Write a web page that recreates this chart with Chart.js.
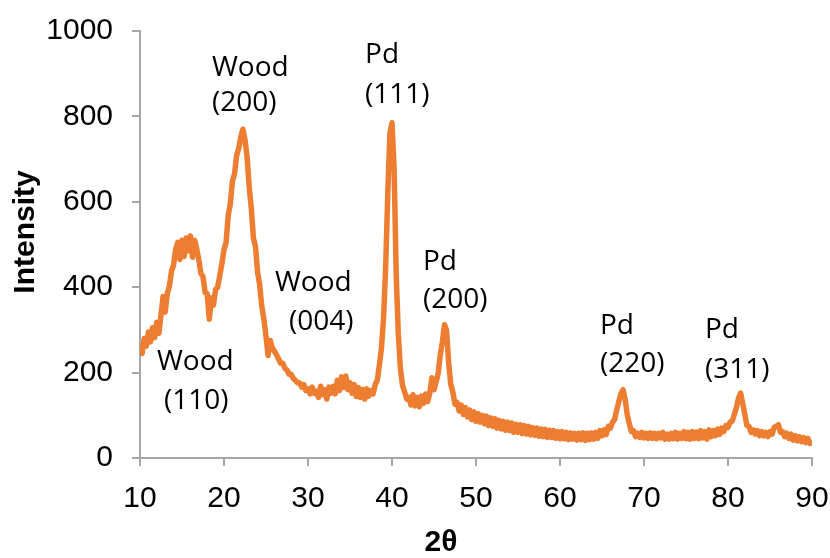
<!DOCTYPE html>
<html>
<head>
<meta charset="utf-8">
<script src="https://cdn.jsdelivr.net/npm/chart.js@4.4.1/dist/chart.umd.min.js"></script>
<style>
  html, body { margin: 0; padding: 0; background: #fff; }
  #wrap { width: 830px; height: 558px; }
</style>
</head>
<body>
<div id="wrap"><canvas id="xrdChart" width="830" height="558"></canvas></div>
<script>
// ---------------------------
// Data
// ---------------------------
// 2-theta sampling grid: 10..90 deg, every 0.25 deg
const angleStart = 10;
const angleStep = 0.25;

// intensity, four samples per degree (n, n.25, n.5, n.75)
const intensity = [
    260, 245, 280, 262,   // 10
    295, 272, 305, 282,   // 11
    318, 292, 335, 378,   // 12
    342, 385, 402, 438,   // 13
    452, 490, 505, 465,   // 14
    510, 472, 515, 485,   // 15
    520, 470, 510, 490,   // 16
    465, 432, 425, 388,   // 17
    385, 325, 375, 358,   // 18
    395, 400, 428, 455,   // 19
    488, 505, 568, 595,   // 20
    648, 665, 708, 725,   // 21
    752, 770, 745, 705,   // 22
    635, 585, 515, 495,   // 23
    435, 405, 355, 325,   // 24
    285, 240, 275, 258,   // 25
    250, 242, 232, 222,   // 26
    222, 210, 206, 196,   // 27
    196, 186, 182, 176,   // 28
    176, 166, 172, 158,   // 29
    162, 150, 166, 152,   // 30
    156, 142, 168, 148,   // 31
    160, 138, 166, 152,   // 32
    168, 150, 182, 158,   // 33
    190, 165, 192, 160,   // 34
    176, 152, 172, 144,   // 35
    165, 142, 160, 138,   // 36
    162, 145, 158, 150,   // 37
    172, 182, 218, 258,   // 38
    330, 450, 620, 760,   // 39
    785, 680, 430, 290,   // 40
    210, 170, 155, 138,   // 41
    142, 124, 148, 122,   // 42
    142, 120, 145, 128,   // 43
    150, 132, 152, 188,   // 44
    160, 178, 198, 242,   // 45
    272, 312, 298, 222,   // 46
    172, 154, 126, 130,   // 47
    110, 124, 102, 118,   // 48
    96, 112, 90, 108,     // 49
    86, 104, 84, 100,     // 50
    80, 98, 76, 94,       // 51
    74, 92, 70, 88,       // 52
    68, 86, 65, 84,       // 53
    64, 82, 60, 79,       // 54
    60, 78, 57, 76,       // 55
    56, 74, 54, 71,       // 56
    53, 70, 51, 68,       // 57
    50, 67, 48, 65,       // 58
    48, 64, 46, 62,       // 59
    45, 62, 45, 60,       // 60
    43, 59, 44, 58,       // 61
    42, 58, 43, 59,       // 62
    41, 58, 43, 59,       // 63
    44, 60, 46, 64,       // 64
    52, 66, 55, 74,       // 65
    70, 84, 90, 112,      // 66
    132, 150, 160, 138,   // 67
    102, 80, 62, 64,      // 68
    50, 58, 48, 60,       // 69
    47, 58, 46, 59,       // 70
    46, 58, 45, 58,       // 71
    47, 60, 44, 56,       // 72
    44, 58, 45, 60,       // 73
    44, 58, 46, 62,       // 74
    45, 60, 44, 62,       // 75
    46, 61, 45, 64,       // 76
    47, 62, 44, 66,       // 77
    50, 64, 52, 68,       // 78
    55, 70, 62, 76,       // 79
    72, 84, 86, 102,      // 80
    118, 140, 152, 128,   // 81
    102, 76, 74, 60,      // 82
    66, 56, 64, 52,       // 83
    62, 52, 60, 50,       // 84
    62, 56, 72, 74,       // 85
    78, 60, 62, 50,       // 86
    58, 46, 56, 42,       // 87
    52, 40, 50, 38,       // 88
    48, 36, 46, 34,       // 89
    40                    // 90
];

const xTickValues = [10, 20, 30, 40, 50, 60, 70, 80, 90];
const yTickValues = [0, 200, 400, 600, 800, 1000];

// peak labels: [line 1, line 2]
const peakLabels = [
    ['Wood', '(110)'],
    ['Wood', '(200)'],
    ['Wood', '(004)'],
    ['Pd', '(111)'],
    ['Pd', '(200)'],
    ['Pd', '(220)'],
    ['Pd', '(311)']
];

// ---------------------------
// Label placement (data units) + styles
// ---------------------------
const labelSpots = [
    [[12.02, 224], [12.86, 133]],
    [[18.57, 913], [18.57, 831]],
    [[26.07, 409], [27.74, 318]],
    [[36.79, 943], [36.79, 850]],
    [[43.69, 459], [43.69, 370]],
    [[64.76, 309], [64.76, 220]],
    [[77.26, 299], [77.26, 206]]
];

const ORANGE = '#ED7D31';
const AXIS_GREY = '#A6A6A6';
const TICK_FONT = { family: '"Liberation Sans", Arial, sans-serif', size: 30 };

const points = intensity.map((v, i) => ({ x: angleStart + i * angleStep, y: v }));

// draws peak labels and axis titles
const textPlugin = {
    id: 'xrdText',
    afterDraw(chart) {
        const { ctx, scales } = chart;
        ctx.save();
        ctx.fillStyle = '#000';
        ctx.font = '28px "Open Sans", sans-serif';
        ctx.textAlign = 'left';
        ctx.textBaseline = 'middle';
        peakLabels.forEach((lines, i) => {
            lines.forEach((txt, j) => {
                const [ax, ay] = labelSpots[i][j];
                ctx.fillText(txt, scales.x.getPixelForValue(ax), scales.y.getPixelForValue(ay));
            });
        });

        // axis titles
        ctx.font = 'bold 30px "Liberation Sans", Arial, sans-serif';
        ctx.textAlign = 'center';
        ctx.fillText('2θ', 441, 543);
        ctx.translate(26, 232);
        ctx.rotate(-Math.PI / 2);
        ctx.fillText('Intensity', 0, 0);
        ctx.restore();
    }
};

new Chart(document.getElementById('xrdChart').getContext('2d'), {
    type: 'line',
    data: {
        datasets: [{
            data: points,
            borderColor: ORANGE,
            backgroundColor: ORANGE,
            borderWidth: 5.5,
            pointRadius: 0,
            tension: 0,
            borderJoinStyle: 'round'
        }]
    },
    options: {
        responsive: false,
        animation: false,
        events: [],
        layout: { padding: { top: 31, right: 18, left: 0, bottom: 0 } },
        plugins: { legend: { display: false }, tooltip: { enabled: false } },
        scales: {
            x: {
                type: 'linear',
                min: 10,
                max: 90,
                afterBuildTicks: (axis) => { axis.ticks = xTickValues.map(v => ({ value: v })); },
                afterFit: (axis) => {
                    axis.height = 100;
                    axis.paddingLeft = 0;
                    axis.paddingRight = 0;
                },
                ticks: { font: TICK_FONT, color: '#000', padding: 15, maxRotation: 0, callback: v => String(v) },
                grid: { drawOnChartArea: false, tickLength: 8, color: AXIS_GREY, lineWidth: 2 },
                border: { color: AXIS_GREY, width: 2 }
            },
            y: {
                min: 0,
                max: 1000,
                afterBuildTicks: (axis) => { axis.ticks = yTickValues.map(v => ({ value: v })); },
                afterFit: (axis) => {
                    axis.width = 140;
                    axis.paddingTop = 0;
                    axis.paddingBottom = 0;
                },
                ticks: { font: TICK_FONT, color: '#000', padding: 19, callback: v => String(v) },
                grid: { drawOnChartArea: false, tickLength: 8, color: AXIS_GREY, lineWidth: 2 },
                border: { color: AXIS_GREY, width: 2 }
            }
        }
    },
    plugins: [textPlugin]
});
</script>
</body>
</html>
